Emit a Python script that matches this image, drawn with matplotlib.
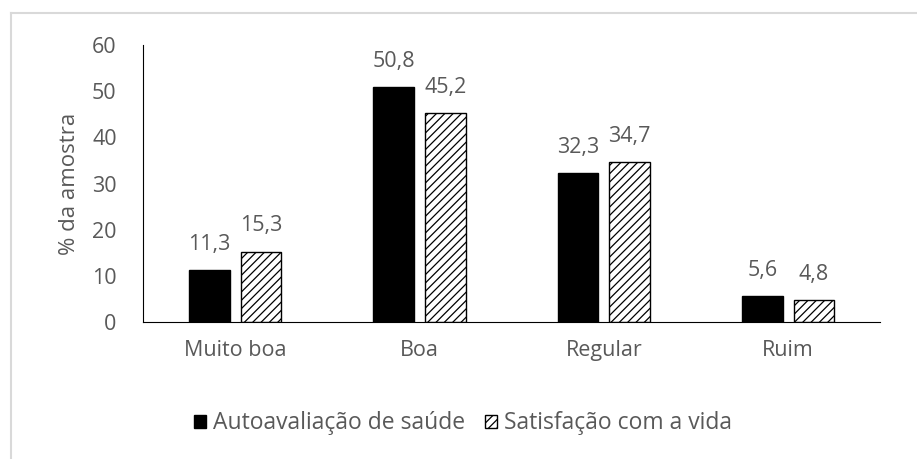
import numpy as np
import matplotlib.pyplot as plt
from matplotlib.lines import Line2D

plt.rcParams['font.family'] = ['Open Sans', 'DejaVu Sans']
plt.rcParams['hatch.linewidth'] = 0.9

# Dados
categorias = ["Muito boa", "Boa", "Regular", "Ruim"]
autoavaliacao = [11.3, 50.8, 32.3, 5.6]
satisfacao = [15.3, 45.2, 34.7, 4.8]
series_nomes = ["Autoavaliação de saúde", "Satisfação com a vida"]

cinza = "#595959"
fs = 15.5

fig = plt.figure(figsize=(9.17, 4.59), dpi=100)
ax = fig.add_axes([0.156, 0.298, 0.804, 0.604])

x = np.arange(len(categorias))
w = 0.22
b1 = ax.bar(x - 0.14, autoavaliacao, w, color="black", edgecolor="black")
b2 = ax.bar(x + 0.14, satisfacao, w, color="white", edgecolor="black",
            hatch="////", linewidth=1.0)

for barras, vals in [(b1, autoavaliacao), (b2, satisfacao)]:
    for r, v in zip(barras, vals):
        ax.annotate(f"{v:.1f}".replace(".", ","),
                    (r.get_x() + r.get_width() / 2, v),
                    xytext=(0, 11), textcoords="offset points",
                    ha="center", va="bottom", fontsize=fs, color=cinza)

ax.set_xlim(-0.5, 3.5)
ax.set_ylim(0, 60)
ax.set_yticks(range(0, 61, 10))
ax.set_xticks(x)
ax.set_xticklabels(categorias)
ax.tick_params(axis="both", length=0, labelsize=fs, labelcolor=cinza)
ax.tick_params(axis="y", pad=19)
ax.tick_params(axis="x", pad=13)
for s in ["top", "right"]:
    ax.spines[s].set_visible(False)
ax.spines["left"].set_color("black")
ax.spines["bottom"].set_color("black")
ax.set_ylabel("% da amostra", fontsize=fs + 0.5, color=cinza, labelpad=9)

leg = fig.legend([b1, b2], series_nomes, loc="center", bbox_to_anchor=(0.505, 0.078),
                 ncol=2, frameon=False, fontsize=fs + 1, labelcolor=cinza,
                 handlelength=0.5, handleheight=0.5, handletextpad=0.3,
                 columnspacing=0.9)

# moldura cinza (topo e esquerda)
fig.add_artist(Line2D([11 / 917, 1], [1 - 13 / 459] * 2, color="#d9d9d9", lw=1.5))
fig.add_artist(Line2D([11 / 917] * 2, [0, 1 - 13 / 459], color="#d9d9d9", lw=1.5))

fig.savefig("out.png", dpi=100)
